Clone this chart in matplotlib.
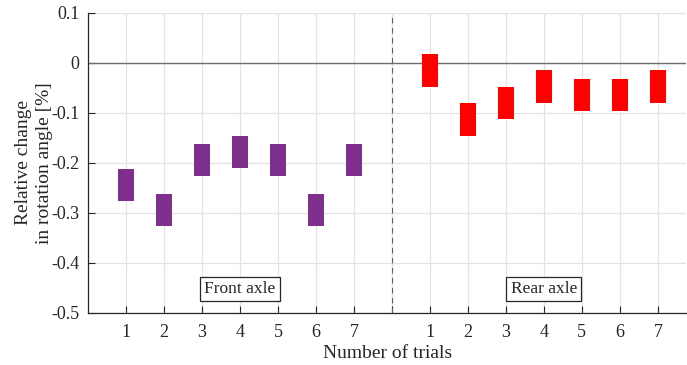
import matplotlib
matplotlib.use("Agg")
import matplotlib.pyplot as plt

plt.rcParams['font.family'] = ['Liberation Serif', 'DejaVu Serif']
plt.rcParams['font.size'] = 13

# trial numbers and value ranges (low, high) in %
trials = [1, 2, 3, 4, 5, 6, 7]
front_low = [-0.276, -0.326, -0.227, -0.211, -0.227, -0.326, -0.227]
front_high = [-0.212, -0.262, -0.162, -0.146, -0.162, -0.262, -0.162]
rear_low = [-0.049, -0.147, -0.113, -0.081, -0.097, -0.097, -0.081]
rear_high = [0.017, -0.081, -0.048, -0.015, -0.032, -0.032, -0.015]

front_x = trials
rear_x = [t + 8 for t in trials]

txt = '#262626'

fig = plt.figure(figsize=(6.87, 3.65), dpi=100)
ax = fig.add_axes([0.128, 0.1425, 0.871, 0.822])

ax.bar(front_x, [h - l for h, l in zip(front_high, front_low)], bottom=front_low,
       width=0.42, color='#7E2F8E', zorder=3)
ax.bar(rear_x, [h - l for h, l in zip(rear_high, rear_low)], bottom=rear_low,
       width=0.42, color='#FF0000', zorder=3)

ax.axhline(0, color='#707070', lw=1, zorder=2)
ax.axvline(8, color='#606060', lw=0.8, ls=(0, (5, 4)), zorder=2)

ax.set_xlim(0, 15.75)
ax.set_ylim(-0.5, 0.1)
ax.set_xticks(front_x + [8] + rear_x)
ax.set_xticklabels([str(t) for t in trials] + [''] + [str(t) for t in trials])
ax.set_yticks([-0.5, -0.4, -0.3, -0.2, -0.1, 0, 0.1])
ax.set_yticklabels(['-0.5', '-0.4', '-0.3', '-0.2', '-0.1', '0', '0.1'])
ax.grid(True, color='#e3e3e3', lw=0.9, zorder=0)
ax.set_axisbelow(True)
ax.tick_params(direction='in', length=5, colors=txt, labelsize=13, pad=6)
ax.tick_params(axis='x', pad=8)

for s in ['top', 'right']:
    ax.spines[s].set_visible(False)
for s in ['left', 'bottom']:
    ax.spines[s].set_color(txt)
    ax.spines[s].set_linewidth(0.9)

box = dict(boxstyle='square,pad=0.25', fc='white', ec=txt, lw=0.9)
ax.text(4, -0.452, 'Front axle', ha='center', va='center', color=txt, fontsize=12.5,
        bbox=box, zorder=4)
ax.text(12, -0.452, 'Rear axle', ha='center', va='center', color=txt, fontsize=12.5,
        bbox=box, zorder=4)

ax.set_xlabel('Number of trials', color=txt, fontsize=14, labelpad=3)
ax.set_ylabel('Relative change\nin rotation angle [%]', color=txt, fontsize=14,
              labelpad=-1, linespacing=1.25)

fig.savefig('out.png', dpi=100)
